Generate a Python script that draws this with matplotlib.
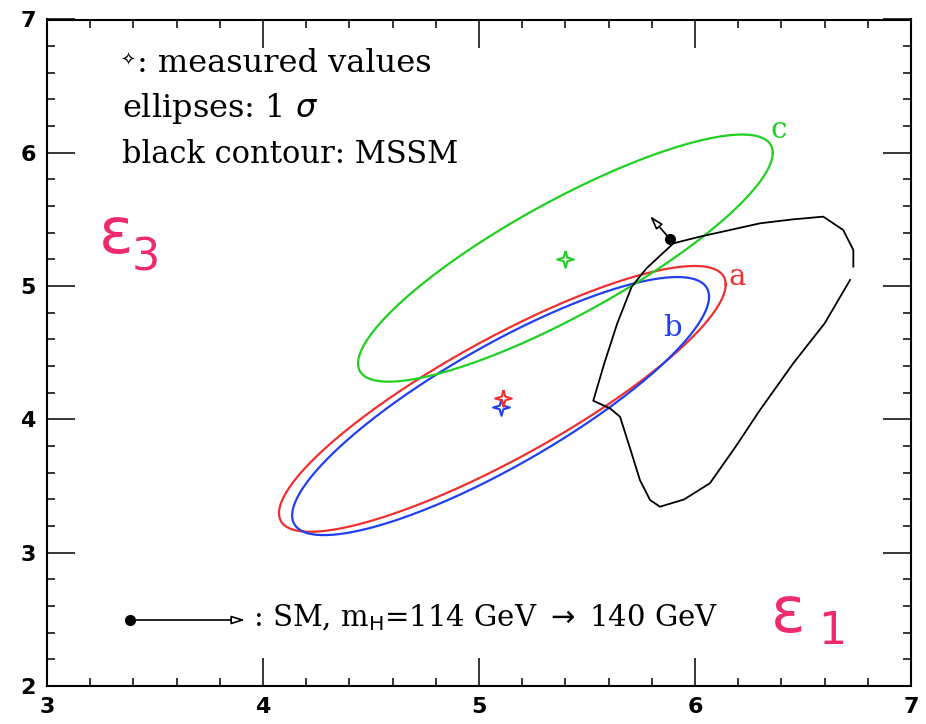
import numpy as np
import matplotlib
matplotlib.use("Agg")
import matplotlib.pyplot as plt
from matplotlib.path import Path
from matplotlib.ticker import MultipleLocator

# fitted 1-sigma ellipses: centre, half extent in x and y, phase (correlation)
fits = ["a", "b", "c"]
fit_colors = ["#f03030", "#2040f0", "#20d020"]
cx = [5.108, 5.10, 5.40]
cy = [4.154, 4.10, 5.21]
sx = [1.034, 0.965, 0.96]
sy = [0.997, 0.968, 0.927]
phase = [0.535, 0.56, 0.551]

# measured values (stars)
meas_x = [5.11, 5.10, 5.40]
meas_y = [4.16, 4.09, 5.20]

# ellipse labels
lab_x = [6.194, 5.894, 6.389]
lab_y = [5.068, 4.686, 6.171]

# MSSM contour (open, small gap on the right)
mssm_x = [6.733, 6.733, 6.686, 6.594, 6.450, 6.301, 6.160, 6.023, 5.900, 5.776,
          5.707, 5.640, 5.580, 5.529, 5.606, 5.653, 5.700, 5.745, 5.792, 5.838,
          5.950, 6.069, 6.190, 6.301, 6.455, 6.600, 6.718]
mssm_y = [5.146, 5.271, 5.421, 5.521, 5.500, 5.471, 5.420, 5.371, 5.321, 5.134,
          4.996, 4.720, 4.420, 4.140, 4.083, 4.020, 3.780, 3.545, 3.395, 3.345,
          3.400, 3.521, 3.800, 4.071, 4.421, 4.720, 5.046]

# SM prediction, m_H = 114 -> 140 GeV
sm_x = [5.884, 5.792]
sm_y = [5.353, 5.526]
key_x = [3.384, 3.917]
key_y = [2.495, 2.495]

# 4 pointed open star marker
star = Path([(0, 1), (0.22, 0.22), (1, 0), (0.22, -0.22), (0, -1),
             (-0.22, -0.22), (-1, 0), (-0.22, 0.22), (0, 1)])

fig = plt.figure(figsize=(9.26, 7.24), dpi=100)
ax = fig.add_axes([47/926, 1-686/724, (911-47)/926, (686-19.5)/724])

t = np.linspace(0, 2*np.pi, 400)
for i in range(3):
    ax.plot(cx[i] + sx[i]*np.cos(t), cy[i] + sy[i]*np.cos(t - phase[i]),
            color=fit_colors[i], lw=1.6)
    ax.text(lab_x[i], lab_y[i], fits[i], color=fit_colors[i], fontsize=21,
            family="DejaVu Serif", ha="center", va="center")
for i in [2, 1, 0]:
    ax.plot(meas_x[i], meas_y[i], marker=star, ms=12, mfc="none",
            mec=fit_colors[i], mew=1.5)

ax.plot(mssm_x, mssm_y, color="black", lw=1.3)

# SM arrows
for xs, ys in [(sm_x, sm_y), (key_x, key_y)]:
    ax.annotate("", xy=(xs[1], ys[1]), xytext=(xs[0], ys[0]),
                arrowprops=dict(arrowstyle="-|>,head_length=0.8,head_width=0.25",
                                fc="white", ec="black", lw=1.2, shrinkA=0, shrinkB=0))
    ax.plot(xs[0], ys[0], "o", color="black", ms=7)

serif = "DejaVu Serif"
ax.text(3.375, 6.69, "\u2727", fontsize=13, ha="center", va="center",
        family=["DejaVu Sans"])
ax.text(3.417, 6.606, ": measured values", fontsize=23, family=serif)
ax.text(3.347, 6.269, r"ellipses: 1 $\sigma$", fontsize=23, family=serif)
ax.text(3.347, 5.923, "black contour: MSSM", fontsize=22, family=serif)
ax.text(3.952, 2.45, r": SM, m$_{\mathrm{H}}$=114 GeV $\rightarrow$ 140 GeV",
        fontsize=21, family=serif)

pink = "#ee2a6e"
fig.text(116/926, 1-235/724, "\u03b5", color=pink, fontsize=46, ha="center", va="center")
fig.text(146/926, 1-258/724, "3", color=pink, fontsize=32, ha="center", va="center")
fig.text(788/926, 1-614/724, "\u03b5", color=pink, fontsize=46, ha="center", va="center")
fig.text(832/926, 1-632/724, "1", color=pink, fontsize=32, ha="center", va="center")

ax.set_xlim(3, 7)
ax.set_ylim(2, 7)
ax.xaxis.set_major_locator(MultipleLocator(1))
ax.yaxis.set_major_locator(MultipleLocator(1))
ax.xaxis.set_minor_locator(MultipleLocator(0.2))
ax.yaxis.set_minor_locator(MultipleLocator(0.2))
ax.tick_params(which="both", direction="in", top=True, right=True, width=1.1)
ax.tick_params(which="major", length=20, labelsize=16, pad=8)
ax.tick_params(which="minor", length=6)
for lbl in ax.get_xticklabels() + ax.get_yticklabels():
    lbl.set_fontweight("bold")
for s in ax.spines.values():
    s.set_linewidth(1.5)

fig.savefig("out.png", dpi=100)
